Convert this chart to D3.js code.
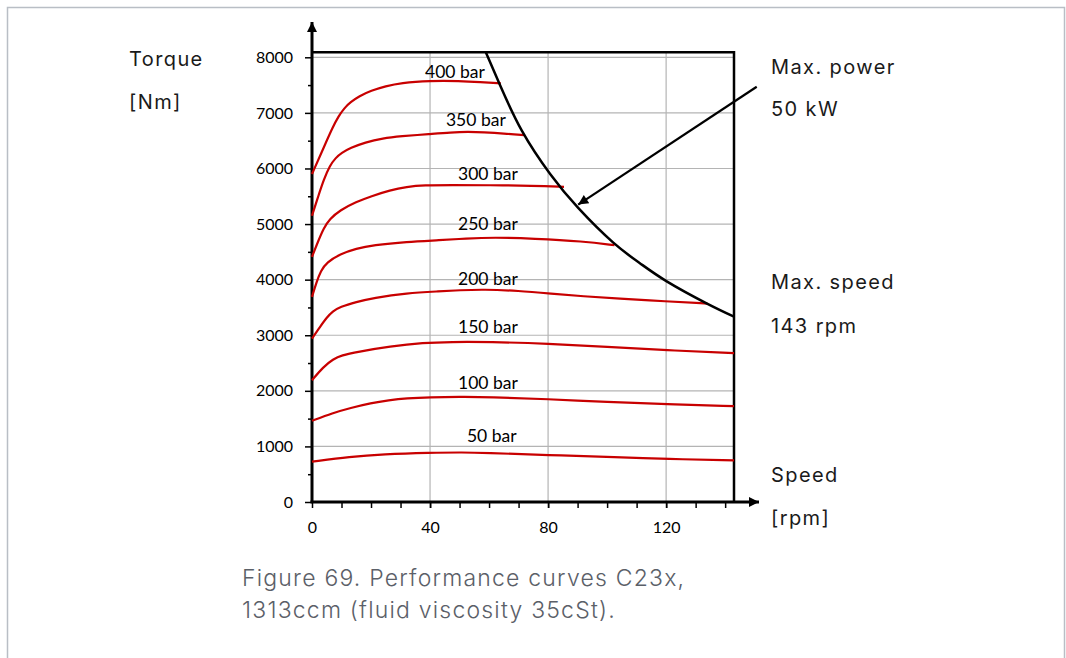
<!doctype html>
<html lang="en">
<head>
  <meta charset="utf-8">
  <title>Performance curves C23x</title>
  <style>
  body { margin: 0; background: #fff; }
  svg { display: block; }
  .tick text { font-family: Lato, "Open Sans", sans-serif; font-size: 16px; fill: #000; }
  .barlabel { font-family: Lato, "Open Sans", sans-serif; font-size: 17.5px; fill: #000; }
  .note { font-family: Inter, "Noto Sans", sans-serif; font-size: 20px; letter-spacing: 1.4px; fill: #1a1a1a; }
  .caption { font-family: Inter, "Noto Sans", sans-serif; font-size: 23px; font-weight: 300; letter-spacing: 1.2px; fill: #5b6068; }
  </style>
</head>
<body>
  <div id="chart"></div>
  <script src="https://cdn.jsdelivr.net/npm/d3@7"></script>
  <script>
    // torque curves, [rpm, Nm]
    var bar400 = [[0,5900],[4,6380],[7,6740],[9,6940],[11,7090],[13,7190],[16,7300],[20,7400],[25,7480],[30,7540],[40,7580],[50,7575],[57,7555],[64,7530]];
    var bar350 = [[0,5150],[2,5480],[4,5800],[6,6050],[8,6190],[10,6280],[13,6370],[18,6470],[24,6545],[30,6580],[40,6620],[47,6650],[53,6660],[58,6650],[65,6630],[72,6600]];
    var bar300 = [[0,4410],[2,4680],[4,4930],[6,5090],[9.5,5250],[15,5400],[20,5500],[26.5,5610],[32,5670],[38,5700],[47,5700],[60,5700],[75,5690],[85.4,5670]];
    var bar250 = [[0,3690],[1.5,3950],[3,4160],[5,4310],[9.5,4460],[15,4560],[20.7,4620],[32,4680],[43.5,4710],[52,4740],[61.6,4760],[75,4740],[92,4690],[102.5,4620]];
    var bar200 = [[0,2940],[2.7,3150],[5,3320],[7,3430],[9.5,3510],[15,3600],[20.7,3670],[32,3760],[43.5,3790],[50,3810],[58,3825],[70,3800],[81,3750],[92,3700],[103.6,3660],[120,3610],[134,3570]];
    var bar150 = [[0,2190],[3.8,2430],[7.2,2570],[10,2640],[15.2,2700],[26.5,2800],[37.8,2865],[47,2880],[60,2880],[80,2850],[100,2790],[120,2730],[143,2680]];
    var bar100 = [[0,1460],[7,1600],[13,1690],[20,1780],[26,1830],[32,1865],[40,1885],[50,1893],[60,1890],[80,1850],[100,1800],[120,1760],[143,1725]];
    var bar50  = [[0,725],[12.9,815],[24,860],[40,887],[51.5,893],[58,885],[80,845],[103.6,805],[120,773],[143,750]];

    var seriesNames = ['400 bar','350 bar','300 bar','250 bar','200 bar','150 bar','100 bar','50 bar'];
    // where each label sits, in rpm / Nm (left edge, baseline)
    var labelRpm = [38.3, 45.4, 49.5, 49.5, 49.5, 49.5, 49.5, 52.5];
    var labelNm  = [7636, 6773, 5785, 4887, 3899, 3036, 2030, 1078];

    // max power limit (50 kW)
    var maxPowerRpm = [58.9, 63.7, 71.1, 80.7, 90.2, 102, 111, 120.2, 133.7, 143];
    var maxPowerNm  = [8090, 7500, 6680, 5900, 5290, 4670, 4300, 3970, 3575, 3335];

    var yTicks = [0,1000,2000,3000,4000,5000,6000,7000,8000];
    var xTicks = [0,40,80,120];
    var maxRpm = 143, topNm = 8090;

    var width = 1066, height = 658;

    var x = d3.scaleLinear().domain([0, maxRpm]).range([312, 734]);
    var y = d3.scaleLinear().domain([0, 8000]).range([502, 57.3]);

    var svg = d3.select('#chart').append('svg')
        .attr('width', width)
        .attr('height', height);

    // page frame
    svg.append('rect')
      .attr('x', 7.5).attr('y', 7.5)
      .attr('width', 1057).attr('height', 700)
      .attr('fill', 'none')
      .attr('stroke', '#b9bec5')
      .attr('stroke-width', 1.5);

    var defs = svg.append('defs');
    defs.append('marker')
      .attr('id', 'head')
      .attr('viewBox', '0 0 10 10')
      .attr('refX', 10).attr('refY', 5)
      .attr('markerWidth', 14).attr('markerHeight', 10)
      .attr('markerUnits', 'userSpaceOnUse')
      .attr('orient', 'auto')
      .append('path')
      .attr('d', 'M0,0L10,5L0,10Z')
      .attr('fill', '#000');

    // grid
    var grid = svg.append('g').attr('stroke', '#b4b4b4').attr('stroke-width', 1.2);
    grid.selectAll('.hg').data(yTicks.slice(1)).enter().append('line')
      .attr('x1', x(0)).attr('x2', x(maxRpm))
      .attr('y1', function(d) { return y(d); })
      .attr('y2', function(d) { return y(d); });
    grid.selectAll('.vg').data(xTicks.slice(1)).enter().append('line')
      .attr('x1', function(d) { return x(d); })
      .attr('x2', function(d) { return x(d); })
      .attr('y1', y(0)).attr('y2', y(topNm));

    // top and right border of the plot
    svg.append('path')
      .attr('d', 'M' + x(0) + ',' + y(topNm) + 'H' + x(maxRpm) + 'V' + y(0))
      .attr('fill', 'none')
      .attr('stroke', '#000')
      .attr('stroke-width', 2.5);

    // axes
    svg.append('g')
      .attr('transform', 'translate(' + x(0) + ',0)')
      .call(d3.axisLeft(y).tickValues(yTicks).tickSize(7).tickPadding(12).tickFormat(d3.format('d')));
    svg.append('g')
      .attr('transform', 'translate(' + x(0) + ',0)')
      .call(d3.axisLeft(y).tickValues(d3.range(500, 8000, 1000)).tickSize(4).tickFormat(''));
    svg.append('g')
      .attr('transform', 'translate(0,' + y(0) + ')')
      .call(d3.axisBottom(x).tickValues(xTicks).tickSize(6).tickPadding(14));
    svg.append('g')
      .attr('transform', 'translate(0,' + y(0) + ')')
      .call(d3.axisBottom(x).tickValues(d3.range(10, 141, 10)).tickSize(6).tickFormat(''));
    svg.selectAll('.domain').remove();
    svg.selectAll('.tick line').attr('stroke', '#000').attr('stroke-width', 1.5);

    svg.append('line')
      .attr('x1', x(0)).attr('x2', x(0))
      .attr('y1', y(0) + 1).attr('y2', 22)
      .attr('stroke', '#000').attr('stroke-width', 3)
      .attr('marker-end', 'url(#head)');
    svg.append('line')
      .attr('x1', x(0) - 1.5).attr('x2', 759)
      .attr('y1', y(0)).attr('y2', y(0))
      .attr('stroke', '#000').attr('stroke-width', 3)
      .attr('marker-end', 'url(#head)');

    // torque curves
    var smooth = d3.line()
      .x(function(d) { return x(d[0]); })
      .y(function(d) { return y(d[1]); })
      .curve(d3.curveBasis);
    var curves = [bar400, bar350, bar300, bar250, bar200, bar150, bar100, bar50];
    svg.append('g').selectAll('path').data(curves).enter().append('path')
      .attr('d', smooth)
      .attr('fill', 'none')
      .attr('stroke', '#c80000')
      .attr('stroke-width', 2.2);

    svg.append('g').selectAll('text').data(seriesNames).enter().append('text')
      .attr('class', 'barlabel')
      .attr('x', function(d, i) { return x(labelRpm[i]); })
      .attr('y', function(d, i) { return y(labelNm[i]); })
      .text(function(d) { return d; });

    // max power curve
    var through = d3.line()
      .x(function(d) { return x(d[0]); })
      .y(function(d) { return y(d[1]); })
      .curve(d3.curveNatural);
    svg.append('path')
      .datum(d3.zip(maxPowerRpm, maxPowerNm))
      .attr('d', through)
      .attr('fill', 'none')
      .attr('stroke', '#000')
      .attr('stroke-width', 2.5);

    // pointer from "Max. power"
    svg.append('line')
      .attr('x1', x(150.7)).attr('y1', y(7470))
      .attr('x2', x(90.2)).attr('y2', y(5350))
      .attr('stroke', '#000').attr('stroke-width', 2.2)
      .attr('marker-end', 'url(#head)');

    // side notes
    var notes = [
      ['Torque', 129, 66], ['[Nm]', 129, 109],
      ['Max. power', 771, 74], ['50 kW', 771, 116],
      ['Max. speed', 771, 289], ['143 rpm', 771, 333],
      ['Speed', 771, 482], ['[rpm]', 771, 525]
    ];
    svg.append('g').selectAll('text').data(notes).enter().append('text')
      .attr('class', 'note')
      .attr('x', function(d) { return d[1]; })
      .attr('y', function(d) { return d[2]; })
      .text(function(d) { return d[0]; });

    svg.append('text').attr('class', 'caption')
      .attr('x', 242).attr('y', 586)
      .text('Figure 69. Performance curves C23x,');
    svg.append('text').attr('class', 'caption')
      .attr('x', 242).attr('y', 618)
      .text('1313ccm (fluid viscosity 35cSt).');
  </script>
</body>
</html>
